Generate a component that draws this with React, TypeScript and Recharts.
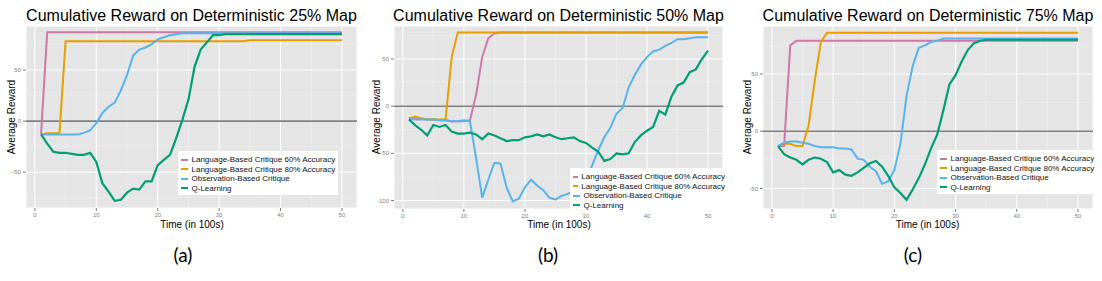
import {
  LineChart,
  Line,
  XAxis,
  YAxis,
  CartesianGrid,
  ReferenceLine,
} from "recharts";

const TIME = [
  1, 2, 3, 4, 5, 6, 7, 8, 9, 10, 11, 12, 13, 14, 15, 16, 17, 18, 19, 20, 21, 22, 23, 24, 25,
  26, 27, 28, 29, 30, 31, 32, 33, 34, 35, 36, 37, 38, 39, 40, 41, 42, 43, 44, 45, 46, 47, 48, 49, 50,
];

const SERIES_NAMES = [
  "Language-Based Critique 60% Accuracy",
  "Language-Based Critique 80% Accuracy",
  "Observation-Based Critique",
  "Q-Learning",
];

const TITLES = [
  "Cumulative Reward on Deterministic 25% Map",
  "Cumulative Reward on Deterministic 50% Map",
  "Cumulative Reward on Deterministic 75% Map",
];
const PANEL_LABELS = ["(a)", "(b)", "(c)"];

const X_TICKS = [0, 10, 20, 30, 40, 50];
const X_MINOR = [5, 15, 25, 35, 45];

// panel (a) - 25% map
const A_LANG60 = [
  -13, 87, 87, 87, 87, 87, 87, 87, 87, 87, 87, 87, 87, 87, 87, 87, 87, 87, 87, 87, 87, 87, 87, 87, 87,
  87, 87, 87, 87, 87, 87, 87, 87, 87, 87, 87, 87, 87, 87, 87, 87, 87, 87, 87, 87, 87, 87, 87, 87, 87,
];
const A_LANG80 = [
  -13, -12, -12, -12, 78, 78, 78, 78, 78, 78, 78, 78, 78, 78, 78, 78, 78, 78, 78, 78, 78, 78, 78, 78, 78,
  78, 78, 78, 78, 78, 78, 78, 78, 78, 79, 79, 79, 79, 79, 79, 79, 79, 79, 79, 79, 79, 79, 79, 79, 79,
];
const A_OBS = [
  -13, -13, -13, -13, -13, -13, -13, -11.5, -9, -2, 8, 14, 18, 30, 45, 64, 70, 72, 75, 80, 82, 84, 85, 86, 86,
  86, 86, 86, 86, 86, 86, 86, 86, 86, 86, 86, 86, 86, 86, 86, 86, 86, 86, 86, 86, 86, 86, 86, 86, 86,
];
const A_QL = [
  -13, -22, -30, -31, -31, -32, -33, -33, -31, -40, -61, -69, -78, -77, -70, -66, -67, -59, -59, -43, -38, -33, -17, 1, 21,
  53, 70, 77, 84, 84, 85, 85, 85, 85, 85, 85, 85, 85, 85, 85, 85, 85, 85, 85, 85, 85, 85, 85, 85, 85,
];
const A_Y_TICKS = [-50, 0, 50];
const A_Y_MINOR = [-75, -25, 25, 75];

// panel (b) - 50% map
const B_LANG60 = [
  -13, -12, -13, -14, -14, -15, -15, -16, -16, -16, -15, 12, 52, 72, 77, 78, 78, 78, 78, 78, 78, 78, 78, 78, 78,
  78, 78, 78, 78, 78, 78, 78, 78, 78, 78, 78, 78, 78, 78, 78, 78, 78, 78, 78, 78, 78, 78, 78, 78, 78,
];
const B_LANG80 = [
  -13, -11, -13, -14, -14, -14, -14, 52, 78, 78, 78, 78, 78, 78, 78, 78, 78, 78, 78, 78, 78, 78, 78, 78, 78,
  78, 78, 78, 78, 78, 78, 78, 78, 78, 78, 78, 78, 78, 78, 78, 78, 78, 78, 78, 78, 78, 78, 78, 78, 78,
];
const B_OBS = [
  -13, -14, -14, -14, -14, -15, -15, -16, -16, -15, -16, -55, -97, -78, -60, -61, -86, -101, -98, -86, -78, -84, -89, -97, -99,
  -95, -93, -90, -86, -77, -63, -47, -33, -23, -8, -2, 20, 33, 44, 52, 58, 60, 64, 67, 71, 71, 72, 73, 73, 73,
];
const B_QL = [
  -14, -20, -25, -31, -20, -22, -20, -27, -29, -29, -28, -30, -35, -29, -31, -34, -37, -36, -36, -33, -32, -30, -32, -30, -33,
  -35, -34, -33, -37, -39, -44, -48, -58, -56, -50, -51, -50, -38, -31, -26, -22, -5, -9, 10, 22, 25, 36, 39, 50, 59,
];
const B_Y_TICKS = [-100, -50, 0, 50];
const B_Y_MINOR = [-75, -25, 25, 75];

// panel (c) - 75% map
const C_LANG60 = [
  -13, -13, 75, 79, 79, 79, 79, 79, 79, 79, 79, 79, 79, 79, 79, 79, 79, 79, 79, 79, 79, 79, 79, 79, 79,
  79, 79, 79, 79, 79, 79, 79, 79, 79, 79, 79, 79, 79, 79, 79, 79, 79, 79, 79, 79, 79, 79, 79, 79, 79,
];
const C_LANG80 = [
  -13, -11, -11, -13, -13, 5, 44, 78, 86, 86, 86, 86, 86, 86, 86, 86, 86, 86, 86, 86, 86, 86, 86, 86, 86,
  86, 86, 86, 86, 86, 86, 86, 86, 86, 86, 86, 86, 86, 86, 86, 86, 86, 86, 86, 86, 86, 86, 86, 86, 86,
];
const C_OBS = [
  -13, -10, -9, -9, -10, -11, -13, -14, -14, -14, -15, -15, -16, -24, -25, -31, -35, -46, -44, -34, -11, 31, 57, 73, 75,
  78, 79, 81, 81, 81, 81, 81, 81, 81, 81, 81, 81, 81, 81, 81, 81, 81, 81, 81, 81, 81, 81, 81, 81, 81,
];
const C_QL = [
  -13, -20, -23, -25, -29, -25, -23, -24, -27, -36, -34, -38, -39, -36, -32, -28, -26, -31, -39, -49, -54, -60, -51, -41, -29,
  -15, -3, 18, 41, 49, 61, 71, 77, 79, 80, 80, 80, 80, 80, 80, 80, 80, 80, 80, 80, 80, 80, 80, 80, 80,
];
const C_Y_TICKS = [-50, 0, 50];
const C_Y_MINOR = [-25, 25, 75];

const KEYS = ["l60", "l80", "obs", "ql"];
const COLORS = ["#CC79A7", "#E69F00", "#56B4E9", "#009E73"];
const FONT = "'Liberation Sans', Arial, sans-serif";

function buildRows(l60: number[], l80: number[], obs: number[], ql: number[]) {
  return TIME.map((t, i) => ({ t, l60: l60[i], l80: l80[i], obs: obs[i], ql: ql[i] }));
}

const PANELS = [
  {
    rows: buildRows(A_LANG60, A_LANG80, A_OBS, A_QL),
    yDomain: [-85, 93],
    yTicks: A_Y_TICKS,
    yMinor: A_Y_MINOR,
    left: 0,
    width: 360,
    yAxisWidth: 26,
    marginRight: 3,
    bottom: 208,
    titleX: 191.5,
    yLabelX: 10.5,
    xLabelX: 192,
    panelX: 183,
    legend: { left: 178, top: 151, width: 160 },
  },
  {
    rows: buildRows(B_LANG60, B_LANG80, B_OBS, B_QL),
    yDomain: [-109, 85],
    yTicks: B_Y_TICKS,
    yMinor: B_Y_MINOR,
    left: 365,
    width: 362,
    yAxisWidth: 29,
    marginRight: 4,
    bottom: 209,
    titleX: 558.5,
    yLabelX: 376,
    xLabelX: 559,
    panelX: 548,
    legend: { left: 570, top: 168, width: 155 },
  },
  {
    rows: buildRows(C_LANG60, C_LANG80, C_OBS, C_QL),
    yDomain: [-68, 92],
    yTicks: C_Y_TICKS,
    yMinor: C_Y_MINOR,
    left: 730,
    width: 372,
    yAxisWidth: 33,
    marginRight: 9,
    bottom: 209,
    titleX: 928,
    yLabelX: 747,
    xLabelX: 927.5,
    panelX: 913,
    legend: { left: 937, top: 150, width: 158 },
  },
];

const CHART_H = 240;
const PLOT_TOP = 26;

function LegendBox({ left, top, width }: { left: number; top: number; width: number }) {
  return (
    <div
      style={{
        position: "absolute",
        left,
        top,
        width,
        height: 44,
        background: "#FFFFFF",
        boxSizing: "border-box",
        paddingTop: 4,
        overflow: "hidden",
        zIndex: 2,
      }}
    >
      {SERIES_NAMES.map((name, i) => (
        <div
          key={name}
          style={{
            display: "flex",
            alignItems: "center",
            height: 9.5,
            fontFamily: FONT,
            fontSize: 8,
            color: "#111",
            whiteSpace: "nowrap",
          }}
        >
          <div style={{ width: 7, height: 2, background: COLORS[i], marginLeft: 3, marginRight: 3.5 }} />
          {name}
        </div>
      ))}
    </div>
  );
}

function Panel({ p, idx }: { p: (typeof PANELS)[number]; idx: number }) {
  const axisTick = { fontSize: 6, fill: "#7F7F7F", fontFamily: FONT };
  return (
    <>
      <div style={{ position: "absolute", left: p.left, top: 0 }}>
        <LineChart
          width={p.width}
          height={CHART_H}
          data={p.rows}
          margin={{ top: PLOT_TOP, right: p.marginRight, left: 0, bottom: 0 }}
        >
          <CartesianGrid
            fill="#E5E5E5"
            stroke="#F2F2F2"
            strokeWidth={0.5}
            horizontalValues={p.yMinor}
            verticalValues={X_MINOR}
          />
          <CartesianGrid stroke="#FFFFFF" strokeWidth={1} />
          <XAxis
            type="number"
            dataKey="t"
            domain={[-1.45, 52.45]}
            ticks={X_TICKS}
            height={CHART_H - p.bottom}
            tick={axisTick}
            tickLine={{ stroke: "#7F7F7F" }}
            tickSize={3}
            axisLine={false}
            allowDataOverflow
            interval={0}
          />
          <YAxis
            type="number"
            domain={p.yDomain}
            ticks={p.yTicks}
            width={p.yAxisWidth}
            tick={axisTick}
            tickLine={{ stroke: "#7F7F7F" }}
            tickSize={3}
            axisLine={false}
            allowDataOverflow
            interval={0}
          />
          <ReferenceLine y={0} stroke="#7F7F7F" strokeWidth={1.6} />
          {KEYS.map((k, i) => (
            <Line
              key={k}
              type="linear"
              dataKey={k}
              stroke={COLORS[i]}
              strokeWidth={i === 3 ? 2.2 : 2}
              dot={false}
              isAnimationActive={false}
            />
          ))}
        </LineChart>
      </div>
      <div
        style={{
          position: "absolute",
          left: p.titleX,
          top: 15.5,
          transform: "translate(-50%, -50%)",
          whiteSpace: "nowrap",
          fontFamily: FONT,
          fontSize: 16,
          color: "#000",
        }}
      >
        {TITLES[idx]}
      </div>
      <div
        style={{
          position: "absolute",
          left: p.yLabelX,
          top: 117,
          transform: "translate(-50%, -50%) rotate(-90deg)",
          whiteSpace: "nowrap",
          fontFamily: FONT,
          fontSize: 10,
          color: "#000",
        }}
      >
        Average Reward
      </div>
      <div
        style={{
          position: "absolute",
          left: p.xLabelX,
          top: 224,
          transform: "translate(-50%, -50%)",
          whiteSpace: "nowrap",
          fontFamily: FONT,
          fontSize: 10,
          color: "#000",
        }}
      >
        Time (in 100s)
      </div>
      <div
        style={{
          position: "absolute",
          left: p.panelX,
          top: 254,
          transform: "translate(-50%, -50%)",
          whiteSpace: "nowrap",
          fontFamily: "Lato, 'Open Sans', sans-serif",
          fontSize: 19,
          color: "#000",
        }}
      >
        {PANEL_LABELS[idx]}
      </div>
      <LegendBox {...p.legend} />
    </>
  );
}

export default function App() {
  return (
    <div
      style={{
        position: "absolute",
        left: 0,
        top: 0,
        width: 1102,
        height: 281,
        background: "#FFFFFF",
        overflow: "hidden",
      }}
    >
      {PANELS.map((p, i) => (
        <Panel key={i} p={p} idx={i} />
      ))}
    </div>
  );
}
